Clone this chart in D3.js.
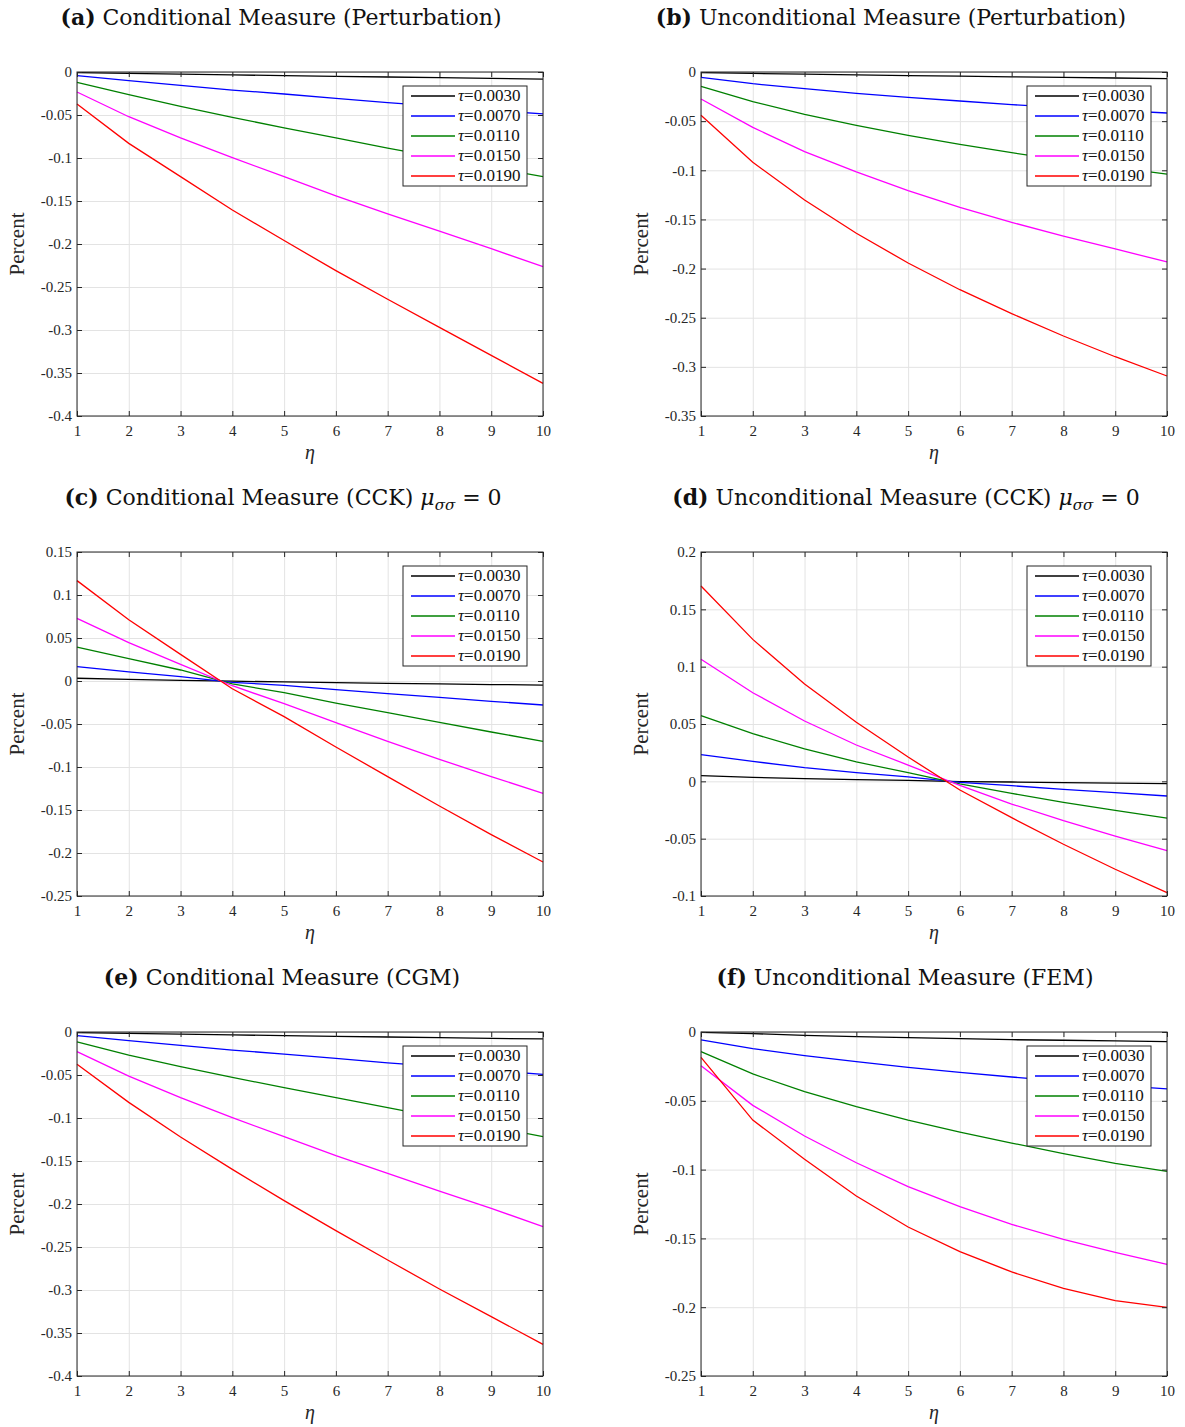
<!DOCTYPE html>
<html>
<head>
<meta charset="utf-8">
<script src="https://cdn.jsdelivr.net/npm/d3@7"></script>
<style>
  body { margin: 0; background: #fff; }
  svg { display: block; }
</style>
</head>
<body>
<svg></svg>
<script>
// Shared x values and series labels
const eta = [1, 2, 3, 4, 5, 6, 7, 8, 9, 10];
const tauLabels = ["0.0030", "0.0070", "0.0110", "0.0150", "0.0190"];
const lineColors = ["#000000", "#0000ff", "#008000", "#ff00ff", "#ff0000"];

// (a) Conditional Measure (Perturbation)
const seriesA = [
    [-0.0008, -0.0017, -0.0025, -0.0034, -0.0042, -0.0050, -0.0058, -0.0066, -0.0074, -0.0082],
    [-0.0043, -0.0100, -0.0155, -0.0210, -0.0256, -0.0306, -0.0357, -0.0400, -0.0446, -0.0488],
    [-0.0120, -0.0264, -0.0400, -0.0527, -0.0651, -0.0767, -0.0884, -0.0996, -0.1110, -0.1217],
    [-0.0233, -0.0520, -0.0767, -0.0996, -0.1217, -0.1440, -0.1650, -0.1850, -0.2054, -0.2264],
    [-0.0372, -0.0830, -0.1217, -0.1605, -0.1960, -0.2310, -0.2643, -0.2970, -0.3295, -0.3620]
];
// (b) Unconditional Measure (Perturbation)
const seriesB = [
    [-0.0007, -0.0015, -0.0022, -0.0029, -0.0036, -0.0042, -0.0049, -0.0055, -0.0061, -0.0068],
    [-0.0054, -0.0119, -0.0170, -0.0217, -0.0258, -0.0295, -0.0332, -0.0363, -0.0390, -0.0417],
    [-0.0146, -0.0302, -0.0431, -0.0543, -0.0644, -0.0736, -0.0821, -0.0899, -0.0970, -0.1038],
    [-0.0275, -0.0563, -0.0811, -0.1017, -0.1207, -0.1377, -0.1530, -0.1669, -0.1800, -0.1933],
    [-0.0441, -0.0919, -0.1302, -0.1641, -0.1943, -0.2215, -0.2459, -0.2686, -0.2897, -0.3093]
];
// (c) Conditional Measure (CCK)
const seriesC = [
    [0.0032, 0.0019, 0.0008, -0.0002, -0.0011, -0.0019, -0.0027, -0.0034, -0.0041, -0.0047],
    [0.0167, 0.0105, 0.0050, -0.0015, -0.0050, -0.0100, -0.0147, -0.0190, -0.0236, -0.0279],
    [0.0395, 0.0260, 0.0128, -0.0033, -0.0136, -0.0256, -0.0368, -0.0480, -0.0593, -0.0702],
    [0.0729, 0.0446, 0.0194, -0.0055, -0.0264, -0.0484, -0.0702, -0.0911, -0.1112, -0.1306],
    [0.1167, 0.0713, 0.0310, -0.0090, -0.0415, -0.0767, -0.1112, -0.1453, -0.1787, -0.2105]
];
// (d) Unconditional Measure (CCK)
const seriesD = [
    [0.0049, 0.0035, 0.0023, 0.0015, 0.0009, -0.0003, -0.0006, -0.0012, -0.0015, -0.0020],
    [0.0233, 0.0174, 0.0119, 0.0076, 0.0038, -0.0009, -0.0038, -0.0070, -0.0099, -0.0128],
    [0.0573, 0.0416, 0.0282, 0.0169, 0.0076, -0.0023, -0.0105, -0.0183, -0.0253, -0.0320],
    [0.1064, 0.0773, 0.0526, 0.0317, 0.0142, -0.0035, -0.0198, -0.0343, -0.0477, -0.0605],
    [0.1703, 0.1238, 0.0849, 0.0515, 0.0212, -0.0076, -0.0317, -0.0549, -0.0767, -0.0971]
];
// (e) Conditional Measure (CGM)
const seriesE = [
    [-0.0008, -0.0017, -0.0025, -0.0034, -0.0042, -0.0050, -0.0058, -0.0066, -0.0074, -0.0081],
    [-0.0043, -0.0101, -0.0156, -0.0210, -0.0257, -0.0307, -0.0358, -0.0402, -0.0448, -0.0492],
    [-0.0116, -0.0270, -0.0403, -0.0527, -0.0647, -0.0764, -0.0880, -0.0996, -0.1100, -0.1217],
    [-0.0229, -0.0512, -0.0764, -0.0996, -0.1217, -0.1438, -0.1643, -0.1849, -0.2050, -0.2264],
    [-0.0376, -0.0818, -0.1221, -0.1597, -0.1961, -0.2310, -0.2651, -0.2988, -0.3310, -0.3632]
];
// (f) Unconditional Measure (FEM)
const seriesF = [
    [-0.0002, -0.0012, -0.0024, -0.0034, -0.0041, -0.0048, -0.0056, -0.0060, -0.0065, -0.0070],
    [-0.0058, -0.0121, -0.0172, -0.0216, -0.0257, -0.0293, -0.0327, -0.0358, -0.0388, -0.0414],
    [-0.0143, -0.0305, -0.0434, -0.0543, -0.0640, -0.0727, -0.0807, -0.0884, -0.0954, -0.1013],
    [-0.0245, -0.0533, -0.0756, -0.0950, -0.1124, -0.1269, -0.1398, -0.1507, -0.1601, -0.1688],
    [-0.0184, -0.0640, -0.0925, -0.1192, -0.1417, -0.1596, -0.1744, -0.1863, -0.1953, -0.2001]
];

// y ranges per panel
const yDomainA = [-0.4, 0], yDomainB = [-0.35, 0], yDomainC = [-0.25, 0.15];
const yDomainD = [-0.1, 0.2], yDomainE = [-0.4, 0], yDomainF = [-0.25, 0];

const width = 1185, height = 1427;
const svg = d3.select("svg").attr("width", width).attr("height", height);

const cols = [{ x0: 77, x1: 543 }, { x0: 701, x1: 1167 }];
const rows = [72, 552, 1032];
const plotH = 344;

const panels = [
    { tag: "(a)", text: " Conditional Measure (Perturbation)", col: 0, row: 0, data: seriesA, dom: yDomainA, tcx: 281 },
    { tag: "(b)", text: " Unconditional Measure (Perturbation)", col: 1, row: 0, data: seriesB, dom: yDomainB, tcx: 891 },
    { tag: "(c)", text: " Conditional Measure (CCK) ", col: 0, row: 1, data: seriesC, dom: yDomainC, tcx: 283, mu: true },
    { tag: "(d)", text: " Unconditional Measure (CCK) ", col: 1, row: 1, data: seriesD, dom: yDomainD, tcx: 906, mu: true },
    { tag: "(e)", text: " Conditional Measure (CGM)", col: 0, row: 2, data: seriesE, dom: yDomainE, tcx: 282 },
    { tag: "(f)", text: " Unconditional Measure (FEM)", col: 1, row: 2, data: seriesF, dom: yDomainF, tcx: 905 }
];

const tickFont = "Liberation Serif, serif";
const axisColor = "#262626";

panels.forEach(p => {
    const c = cols[p.col];
    const top = rows[p.row], bottom = top + plotH;

    const x = d3.scaleLinear().domain([1, 10]).range([c.x0, c.x1]);
    const y = d3.scaleLinear().domain(p.dom).range([bottom, top]);
    const yTicks = d3.range(Math.round(p.dom[0] * 100), Math.round(p.dom[1] * 100) + 1, 5).map(v => v / 100);
    const fmt = v => (Math.abs(v) < 1e-9 ? "0" : String(+v.toFixed(2)));

    // Grid
    const grid = svg.append("g");
    grid.append("g")
        .attr("transform", `translate(0,${bottom})`)
        .call(d3.axisBottom(x).tickValues(eta).tickSize(-plotH).tickFormat(""))
        .call(g => g.select(".domain").remove());
    grid.append("g")
        .attr("transform", `translate(${c.x0},0)`)
        .call(d3.axisLeft(y).tickValues(yTicks).tickSize(-(c.x1 - c.x0)).tickFormat(""))
        .call(g => g.select(".domain").remove());
    grid.selectAll("line").attr("stroke", "#e3e3e3").attr("stroke-width", 1);

    // Lines
    const line = d3.line().x((d, i) => x(eta[i])).y(d => y(d));
    p.data.forEach((s, k) => {
        svg.append("path")
            .datum(s)
            .attr("d", line)
            .attr("fill", "none")
            .attr("stroke", lineColors[k])
            .attr("stroke-width", 1.3);
    });

    // Axes with inward ticks on all four sides
    const styleAxis = g => {
        g.select(".domain").remove();
        g.selectAll("line").attr("stroke", axisColor);
        g.selectAll("text").attr("fill", axisColor).style("font-family", tickFont).style("font-size", "15px");
    };
    svg.append("g").attr("transform", `translate(0,${bottom})`)
        .call(d3.axisBottom(x).tickValues(eta).tickSizeInner(-5).tickSizeOuter(0).tickPadding(9))
        .call(styleAxis);
    svg.append("g").attr("transform", `translate(0,${top})`)
        .call(d3.axisTop(x).tickValues(eta).tickSizeInner(-5).tickSizeOuter(0).tickFormat(""))
        .call(styleAxis);
    svg.append("g").attr("transform", `translate(${c.x0},0)`)
        .call(d3.axisLeft(y).tickValues(yTicks).tickSizeInner(-5).tickSizeOuter(0).tickPadding(5).tickFormat(fmt))
        .call(styleAxis);
    svg.append("g").attr("transform", `translate(${c.x1},0)`)
        .call(d3.axisRight(y).tickValues(yTicks).tickSizeInner(-5).tickSizeOuter(0).tickFormat(""))
        .call(styleAxis);

    // Box
    svg.append("rect")
        .attr("x", c.x0).attr("y", top)
        .attr("width", c.x1 - c.x0).attr("height", plotH)
        .attr("fill", "none").attr("stroke", axisColor).attr("stroke-width", 1);

    // Axis labels
    svg.append("text")
        .attr("x", (c.x0 + c.x1) / 2).attr("y", bottom + 43)
        .attr("text-anchor", "middle")
        .style("font-family", tickFont).style("font-style", "italic").style("font-size", "20px")
        .attr("fill", axisColor)
        .text("η");
    svg.append("text")
        .attr("transform", `translate(${c.x0 - 53},${(top + bottom) / 2}) rotate(-90)`)
        .attr("text-anchor", "middle")
        .style("font-family", tickFont).style("font-size", "21px")
        .attr("fill", axisColor)
        .text("Percent");

    // Title
    const t = svg.append("text")
        .attr("x", p.tcx).attr("y", top - 47)
        .attr("text-anchor", "middle")
        .style("font-family", "DejaVu Serif, serif").style("font-size", "22px")
        .attr("fill", "#111");
    t.append("tspan").style("font-weight", "bold").text(p.tag);
    t.append("tspan").text(p.text);
    if (p.mu) {
        t.append("tspan").style("font-style", "italic").text("μ");
        t.append("tspan").style("font-style", "italic").style("font-size", "15px").attr("dy", 5).text("σσ");
        t.append("tspan").attr("dy", -5).text(" = 0");
    }

    // Legend
    const lx = c.x1 - 140, ly = top + 14;
    const leg = svg.append("g");
    leg.append("rect")
        .attr("x", lx).attr("y", ly).attr("width", 124).attr("height", 100)
        .attr("fill", "#fff").attr("stroke", axisColor).attr("stroke-width", 1);
    tauLabels.forEach((lab, k) => {
        const yy = ly + 10 + k * 20;
        leg.append("line")
            .attr("x1", lx + 8).attr("x2", lx + 52).attr("y1", yy).attr("y2", yy)
            .attr("stroke", lineColors[k]).attr("stroke-width", 1.3);
        const tx = leg.append("text")
            .attr("x", lx + 55).attr("y", yy + 5)
            .style("font-family", tickFont).style("font-size", "17px")
            .attr("fill", "#111");
        tx.append("tspan").style("font-style", "italic").text("τ");
        tx.append("tspan").text("=" + lab);
    });
});
</script>
</body>
</html>
